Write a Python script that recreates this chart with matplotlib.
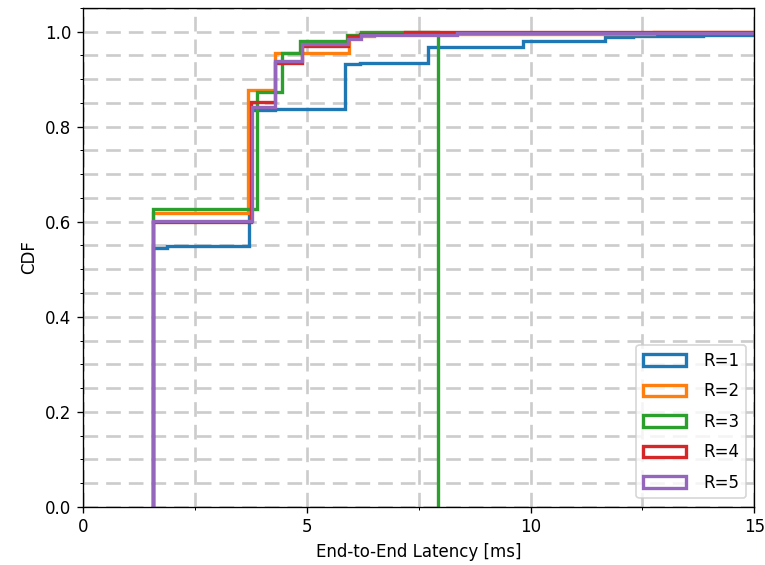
import numpy as np
import matplotlib
matplotlib.use("Agg")
import matplotlib.pyplot as plt
from matplotlib.ticker import AutoMinorLocator

# step edges (ms) and CDF level right after each edge; last edge is where the step histogram closes
labels = ["R=1", "R=2", "R=3", "R=4", "R=5"]
edges = [
    [1.57, 1.87, 3.70, 4.30, 5.85, 6.20, 7.71, 9.84, 11.67, 12.30, 13.86, 20.0],
    [1.57, 3.69, 4.29, 5.95, 6.50, 12.75, 20.0],
    [1.57, 3.88, 4.44, 4.85, 5.90, 6.22, 7.94],
    [1.57, 3.75, 4.28, 4.89, 5.92, 6.20, 7.20, 20.0],
    [1.57, 3.77, 4.29, 4.90, 5.92, 6.22, 8.35, 20.0],
]
cdf = [
    [0.545, 0.548, 0.835, 0.837, 0.932, 0.934, 0.967, 0.981, 0.989, 0.990, 0.992],
    [0.618, 0.878, 0.955, 0.990, 0.995, 1.000],
    [0.627, 0.872, 0.955, 0.981, 0.994, 1.000],
    [0.600, 0.853, 0.934, 0.970, 0.991, 0.996, 1.000],
    [0.602, 0.842, 0.939, 0.974, 0.984, 0.992, 0.997],
]
colors = ["#1f77b4", "#ff7f0e", "#2ca02c", "#d62728", "#9467bd"]


def main():
    fig, ax = plt.subplots(figsize=(765 / 120, 565 / 120), dpi=120)
    fig.subplots_adjust(left=0.1085, right=0.986, bottom=0.103, top=0.986)

    for e, c, lab, col in zip(edges, cdf, labels, colors):
        w = np.diff([0.0] + c)
        ax.hist(e[:-1], bins=e, weights=w, cumulative=True, histtype="step",
                color=col, linewidth=2.0, label=lab)

    ax.set_xlim(0, 15)
    ax.set_ylim(0, 1.05)
    ax.set_xticks([0, 5, 10, 15])
    ax.set_yticks([0.0, 0.2, 0.4, 0.6, 0.8, 1.0])
    ax.xaxis.set_minor_locator(AutoMinorLocator(2))
    ax.yaxis.set_minor_locator(AutoMinorLocator(4))
    ax.grid(True, which="both", color="#cccccc", linewidth=1.6,
            linestyle=(0, (5.5, 3)))
    ax.set_axisbelow(True)
    ax.set_xlabel("End-to-End Latency [ms]")
    ax.set_ylabel("CDF")
    ax.legend(loc="lower right", handlelength=2.6, labelspacing=0.75,
              handletextpad=1.0)

    fig.savefig("out.png", dpi=120)


if __name__ == '__main__':
    main()
